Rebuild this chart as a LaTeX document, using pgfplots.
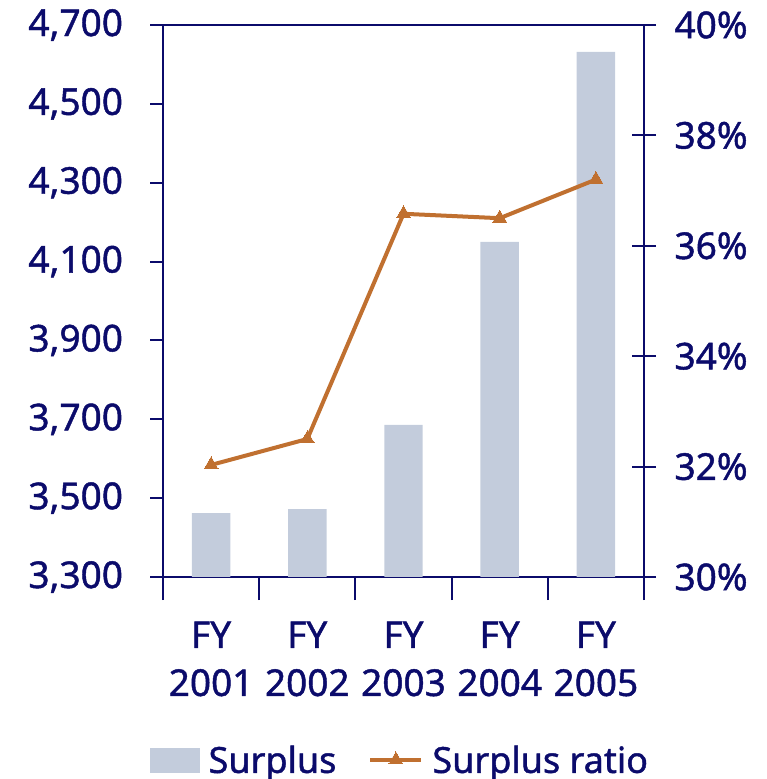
\documentclass[border=0pt]{standalone}
\usepackage{fontspec}
\setmainfont{Noto Sans}[FakeBold=1.2]
\usepackage{pgfplots}
\pgfplotsset{compat=1.18}
\definecolor{navy}{HTML}{0B0B6B}
\definecolor{barc}{HTML}{C3CCDC}
\definecolor{linec}{HTML}{C07030}
\pgfplotsset{
  linelegend/.style={legend image code/.code={\draw[mark repeat=2,mark phase=2,##1] plot coordinates {(0pt,0pt) (25.5pt,0pt) (51pt,0pt)}; \path (58pt,0pt);}},
  barlegend/.style={legend image code/.code={\fill[barc] (0pt,-12pt) rectangle (49pt,12pt); \path (56pt,0pt);}},
}
\begin{document}
\begin{tikzpicture}
\path[use as bounding box] (0pt,0pt) rectangle (767pt,779pt);
\begin{axis}[
  at={(163pt,202pt)}, anchor=south west, scale only axis,
  width=481pt, height=552pt,
  xmin=0.5, xmax=5.5, ymin=3300, ymax=4700,
  ytick={3300,3500,...,4700},
  xtick={1,2,3,4,5},
  xticklabels={{FY\\2001},{FY\\2002},{FY\\2003},{FY\\2004},{FY\\2005}},
  minor xtick={0.5,1.5,...,5.5},
  xtick pos=bottom, ytick pos=left,
  tick align=center,
  major tick length=13pt, minor tick length=23pt,
  y tick style={xshift=-6.5pt},
  major x tick style={draw=none},
  tick style={navy, line width=2pt},
  axis line style={navy, line width=2pt},
  /pgf/number format/assume math mode=true,
  /pgf/number format/1000 sep={,},
  ticklabel style={font=\fontsize{37}{48}\selectfont, text=navy},
  yticklabel style={xshift=-30pt},
  xticklabel style={align=center, yshift=-28pt},
  ybar, bar width=0.4,
]
\addplot[fill=barc, draw=none] coordinates {(1,3462) (2,3472) (3,3686) (4,4150) (5,4632)};
\end{axis}
\begin{axis}[
  at={(163pt,202pt)}, anchor=south west, scale only axis,
  width=481pt, height=552pt,
  xmin=0.5, xmax=5.5, ymin=30, ymax=40,
  ytick={30,32,...,40},
  hide x axis, axis y line*=right,
  tick align=center, major tick length=24pt,
  tick style={navy, line width=2pt},
  axis line style={navy, line width=2pt},
  /pgf/number format/assume math mode=true,
  yticklabel={\pgfmathprintnumber{\tick}\%},
  ticklabel style={font=\fontsize{37}{48}\selectfont, text=navy},
  yticklabel style={xshift=15pt},
  legend columns=2,
  legend style={draw=none, fill=none, inner sep=0pt, at={(-0.027,-0.3315)}, anchor=west,
    font=\fontsize{36}{42}\selectfont, text=navy,
    /tikz/every odd column/.append style={column sep=0pt},
    /tikz/every even column/.append style={column sep=30pt}},
]
\addlegendimage{barlegend}
\addlegendentry{Surplus}
\addplot[linec, line width=4pt, mark=triangle*, mark size=8pt, mark options={solid, line width=0pt}, linelegend]
  coordinates {(1,32.03) (2,32.5) (3,36.58) (4,36.5) (5,37.2)};
\addlegendentry{Surplus ratio}
\end{axis}
\end{tikzpicture}
\end{document}
